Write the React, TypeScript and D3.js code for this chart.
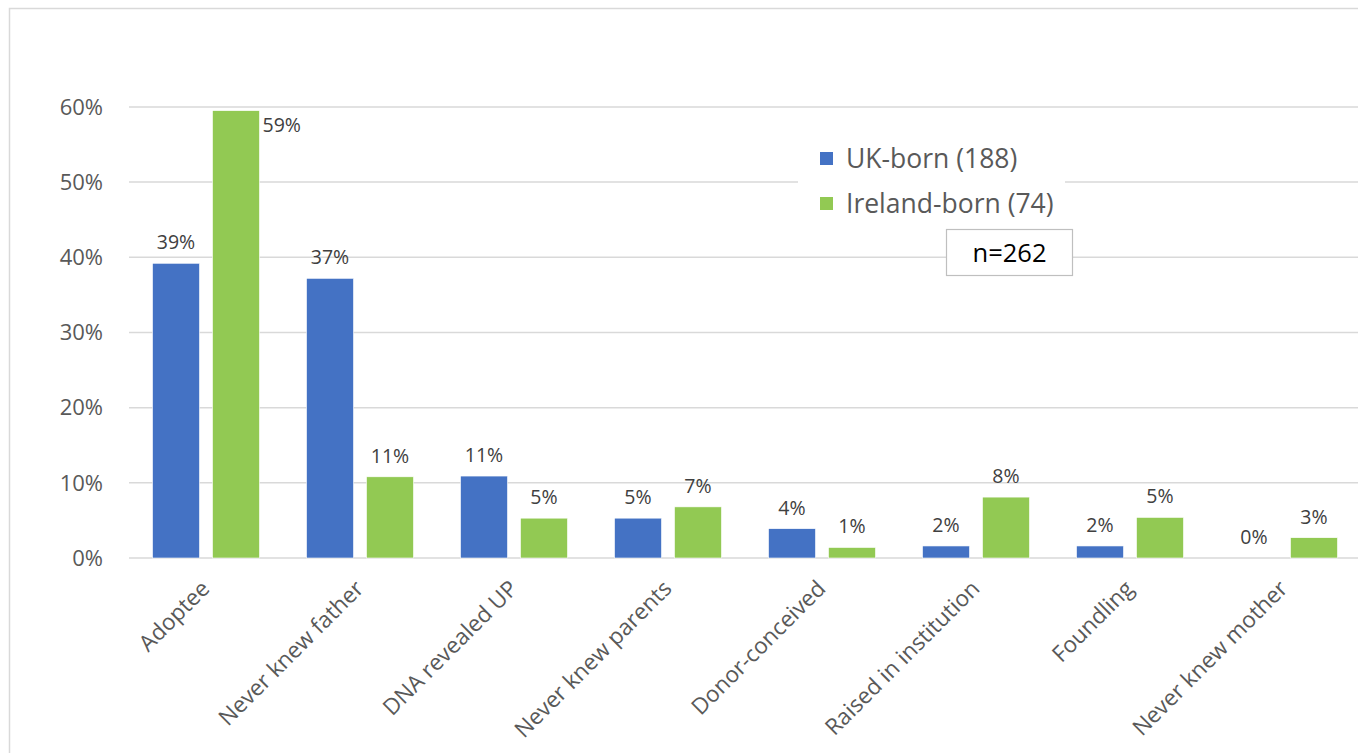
import React from "react";
import * as d3 from "d3";

const categories = [
  "Adoptee",
  "Never knew father",
  "DNA revealed UP",
  "Never knew parents",
  "Donor-conceived",
  "Raised in institution",
  "Foundling",
  "Never knew mother",
];
const seriesNames = ["UK-born (188)", "Ireland-born (74)"];
const ukValues = [39.2, 37.2, 10.9, 5.3, 3.9, 1.6, 1.6, 0];
const ieValues = [59.5, 10.8, 5.3, 6.8, 1.4, 8.1, 5.4, 2.7];
const ukLabels = ["39%", "37%", "11%", "5%", "4%", "2%", "2%", "0%"];
const ieLabels = ["59%", "11%", "5%", "7%", "1%", "8%", "5%", "3%"];
const yTicks = [0, 10, 20, 30, 40, 50, 60];
const colors = ["#4472C4", "#92C953"];
const noteText = "n=262";

const W = 1358;
const H = 753;
const FONT = "'Open Sans', 'DejaVu Sans', sans-serif";

export default function App() {
  const plotLeft = 129;
  const plotRight = 129 + 154 * categories.length;
  const y = d3.scaleLinear().domain([0, 60]).range([558, 106.9]);
  const x0 = d3.scaleBand().domain(categories).range([plotLeft, plotRight]).padding(0);
  const x1 = d3
    .scaleBand()
    .domain(seriesNames)
    .range([0, x0.bandwidth()])
    .paddingInner(0.2167)
    .paddingOuter(0.392);
  const values = [ukValues, ieValues];
  const labels = [ukLabels, ieLabels];
  const topLimit = y(60);

  return (
    <svg
      width={W}
      height={H}
      style={{ position: "absolute", left: 0, top: 0, background: "#fff" }}
      fontFamily={FONT}
    >
      <rect x={9.5} y={8.5} width={W + 20} height={H + 20} fill="#fff" stroke="#d9d9d9" strokeWidth={1.5} />
      {yTicks.map((t) => (
        <g key={t}>
          <line x1={plotLeft} x2={plotRight} y1={y(t)} y2={y(t)} stroke="#d9d9d9" strokeWidth={1.5} />
          <text x={103} y={y(t)} dy="0.35em" textAnchor="end" fontSize={22} fill="#595959">
            {t}%
          </text>
        </g>
      ))}
      {categories.map((c, i) => (
        <g key={c} transform={`translate(${x0(c)},0)`}>
          {seriesNames.map((s, k) => {
            const v = values[k][i];
            const bx = x1(s)!;
            const bw = x1.bandwidth();
            const top = y(v);
            const aboveBaseline = top - 14;
            const overflow = aboveBaseline - 16 < topLimit;
            return (
              <g key={s}>
                {v > 0 && (
                  <rect x={bx} y={top} width={bw} height={y(0) - top} fill={colors[k]} stroke="#fff" strokeWidth={0.6} />
                )}
                {overflow ? (
                  <text x={bx + bw + 3} y={top + 21} fontSize={19.5} fill="#404040">
                    {labels[k][i]}
                  </text>
                ) : (
                  <text x={bx + bw / 2} y={aboveBaseline} textAnchor="middle" fontSize={19.5} fill="#404040">
                    {labels[k][i]}
                  </text>
                )}
              </g>
            );
          })}
        </g>
      ))}
      {categories.map((c) => {
        const cx = x0(c)! + x0.bandwidth() / 2 + 5;
        const cy = 590;
        return (
          <text
            key={c}
            transform={`translate(${cx},${cy}) rotate(-45)`}
            textAnchor="end"
            fontSize={22.5}
            fill="#595959"
          >
            {c}
          </text>
        );
      })}
      <rect x={798} y={136} width={267} height={92} fill="#fff" />
      {seriesNames.map((s, k) => (
        <g key={s} transform={`translate(820,${152 + k * 45})`}>
          <rect x={0} y={0} width={13} height={13} fill={colors[k]} />
          <text x={26} y={6.5} dy="0.36em" fontSize={26.5} fill="#595959">
            {s}
          </text>
        </g>
      ))}
      <rect x={946.5} y={229.5} width={126} height={46} fill="#fff" stroke="#bfbfbf" strokeWidth={1.2} />
      <text x={1009.5} y={253} dy="0.36em" textAnchor="middle" fontSize={25.5} fill="#000">
        {noteText}
      </text>
    </svg>
  );
}
